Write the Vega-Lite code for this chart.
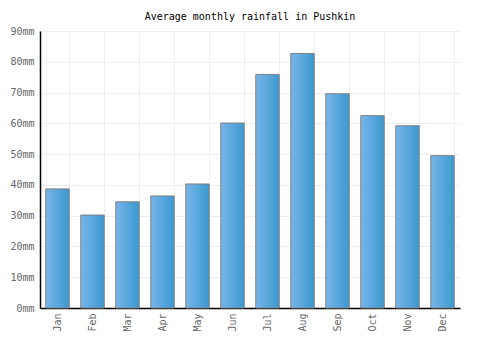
{
  "$schema": "https://vega.github.io/schema/vega-lite/v6.json",
  "autosize": "none",
  "width": 420,
  "height": 277,
  "padding": {"left": 40, "top": 31, "right": 40, "bottom": 42},
  "background": "white",
  "title": {
    "text": "Average monthly rainfall in Pushkin",
    "font": "DejaVu Sans Mono",
    "fontSize": 10,
    "fontWeight": "normal",
    "color": "#000000",
    "offset": 4
  },
  "data": {
    "values": [
      {"month": "Jan", "rain": 38.7},
      {"month": "Feb", "rain": 30.2},
      {"month": "Mar", "rain": 34.5},
      {"month": "Apr", "rain": 36.4},
      {"month": "May", "rain": 40.3},
      {"month": "Jun", "rain": 60.1},
      {"month": "Jul", "rain": 75.9},
      {"month": "Aug", "rain": 82.7},
      {"month": "Sep", "rain": 69.6},
      {"month": "Oct", "rain": 62.5},
      {"month": "Nov", "rain": 59.2},
      {"month": "Dec", "rain": 49.5}
    ]
  },
  "mark": {
    "type": "bar",
    "stroke": "#808080",
    "strokeWidth": 1,
    "fill": {
      "gradient": "linear",
      "x1": 0, "y1": 0, "x2": 1, "y2": 0,
      "stops": [
        {"offset": 0, "color": "#78b5ea"},
        {"offset": 1, "color": "#3b99cf"}
      ]
    }
  },
  "encoding": {
    "x": {
      "field": "month",
      "type": "nominal",
      "sort": null,
      "scale": {"paddingInner": 0.33, "paddingOuter": 0.165},
      "axis": {
        "title": null,
        "labelAngle": -90,
        "labelFont": "DejaVu Sans Mono",
        "labelFontSize": 10,
        "labelColor": "#666666",
        "labelPadding": 5,
        "ticks": false,
        "grid": true,
        "tickBand": "extent",
        "gridColor": "#eeeeee",
        "gridWidth": 1,
        "domainColor": "#000000",
        "domainWidth": 1.5
      }
    },
    "y": {
      "field": "rain",
      "type": "quantitative",
      "scale": {"domain": [0, 90], "nice": false},
      "axis": {
        "title": null,
        "values": [0, 10, 20, 30, 40, 50, 60, 70, 80, 90],
        "labelExpr": "datum.value + 'mm'",
        "labelFont": "DejaVu Sans Mono",
        "labelFontSize": 10,
        "labelColor": "#666666",
        "labelPadding": 6,
        "ticks": false,
        "grid": true,
        "gridColor": "#eeeeee",
        "gridWidth": 1,
        "domainColor": "#000000",
        "domainWidth": 1.5
      }
    }
  },
  "config": {"view": {"stroke": null}}
}
